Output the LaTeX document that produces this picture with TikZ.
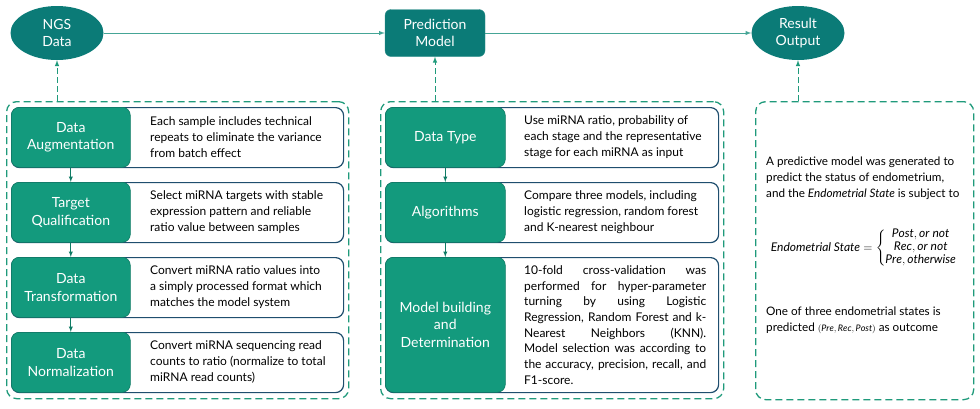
\documentclass[tikz,border=0pt]{standalone}
\usepackage{amsmath}
\usepackage{fontspec}
\setmainfont{Lato}
\usetikzlibrary{shapes.geometric, arrows}
\usetikzlibrary{positioning}
\definecolor{topteal}{HTML}{0B7B77}
\definecolor{boxgreen}{HTML}{139A7D}
\definecolor{rowline}{HTML}{1F4E6E}
\definecolor{dashgreen}{HTML}{1F9A7B}
\definecolor{flowline}{HTML}{45A596}
\tikzstyle{topell} = [ellipse, fill=topteal, text=white, minimum width=93pt, minimum height=54pt, inner sep=0pt, align=center, font=\fontsize{14}{17}\selectfont]
\tikzstyle{topbox} = [rectangle, rounded corners=6pt, fill=topteal, draw=topteal!85!white, text=white, minimum width=100pt, minimum height=47pt, align=center, font=\fontsize{14}{17}\selectfont]
\tikzstyle{group} = [rectangle, draw=dashgreen, line width=1.3pt, dash pattern=on 7pt off 4pt, rounded corners=10pt, anchor=north west, inner sep=0pt]
\tikzstyle{rowbox} = [rectangle, draw=rowline, line width=1.2pt, fill=white, rounded corners=8pt, anchor=north west, inner sep=0pt]
\tikzstyle{labbox} = [rectangle, fill=boxgreen, draw=boxgreen!80!black, line width=0.6pt, rounded corners=8pt, anchor=north west, text=white, align=center, inner sep=0pt, font=\fontsize{14}{17.5}\selectfont]
\tikzstyle{desc} = [anchor=west, align=left, inner sep=0pt, font=\fontsize{12}{16}\selectfont]
\tikzstyle{arrow} = [->,>=latex, flowline, line width=1pt]
\tikzstyle{dasharrow} = [->,>=latex, dashgreen, line width=1pt, dash pattern=on 6pt off 3pt]
\tikzstyle{stepdown} = [->,>=latex, boxgreen!80!black, line width=0.9pt]
\newcommand{\jline}[1]{\makebox[182pt][s]{#1}}

\begin{document}
\begin{tikzpicture}[x=1pt,y=-1pt]
\useasboundingbox (0,0) rectangle (980,408);
% top level
\node [topell] (ngs) at (57,33) {NGS\\Data};
\node [topbox] (pm) at (435,33) {Prediction\\Model};
\node [topell] (res) at (798,33) {Result\\Output};
\draw [arrow] (ngs) -- (pm);
\draw [arrow] (pm) -- (res);
% dashed groups
\node [group, minimum width=342pt, minimum height=297pt] (prep) at (6,101) {};
\node [group, minimum width=343pt, minimum height=297pt] (model) at (380,101) {};
\node [group, minimum width=218pt, minimum height=298pt] (outc) at (755,101) {};
\draw [dasharrow] (prep.north -| ngs.south) -- (ngs.south);
\draw [dasharrow] (model.north -| pm.south) -- (pm.south);
\draw [dasharrow] (outc.north -| res.south) -- (res.south);
% data preparation
\node [rowbox, minimum width=332pt, minimum height=60pt] (augrow) at (11,107) {};
\node [labbox, minimum width=119pt, minimum height=60pt] (aug) at (11,107) {Data\\Augmentation};
\node [desc] (augtxt) at (150,137) {Each sample includes technical\\repeats to eliminate the variance\\from batch effect};
\node [rowbox, minimum width=332pt, minimum height=60pt] (qualrow) at (11,182) {};
\node [labbox, minimum width=119pt, minimum height=60pt] (qual) at (11,182) {Target\\Qualification};
\node [desc] (qualtxt) at (150,212) {Select miRNA targets with stable\\expression pattern and reliable\\ratio value between samples};
\node [rowbox, minimum width=332pt, minimum height=60pt] (transrow) at (11,257) {};
\node [labbox, minimum width=119pt, minimum height=60pt] (trans) at (11,257) {Data\\Transformation};
\node [desc] (transtxt) at (150,287) {Convert miRNA ratio values into\\a simply processed format which\\matches the model system};
\node [rowbox, minimum width=332pt, minimum height=60pt] (normrow) at (11,332) {};
\node [labbox, minimum width=119pt, minimum height=60pt] (norm) at (11,332) {Data\\Normalization};
\node [desc] (normtxt) at (150,362) {Convert miRNA sequencing read\\counts to ratio (normalize to total\\miRNA read counts)};
\draw [stepdown] (aug) -- (qual);
\draw [stepdown] (qual) -- (trans);
\draw [stepdown] (trans) -- (norm);
% prediction model
\node [rowbox, minimum width=333pt, minimum height=60pt] (typerow) at (385,107) {};
\node [labbox, minimum width=120pt, minimum height=60pt] (dtype) at (385,107) {Data Type};
\node [desc] (typetxt) at (524,137) {Use miRNA ratio, probability of\\each stage and the representative\\stage for each miRNA as input};
\node [rowbox, minimum width=333pt, minimum height=60pt] (algrow) at (385,182) {};
\node [labbox, minimum width=120pt, minimum height=60pt] (alg) at (385,182) {Algorithms};
\node [desc] (algtxt) at (524,212) {Compare three models, including\\logistic regression, random forest\\and K-nearest neighbour};
\node [rowbox, minimum width=333pt, minimum height=135pt] (buildrow) at (385,257) {};
\node [labbox, minimum width=120pt, minimum height=135pt] (build) at (385,257) {Model building\\and\\Determination};
\node [desc, font=\fontsize{12}{15.7}\selectfont] (buildtxt) at (524,325) {\jline{10-fold cross-validation was}\\\jline{performed for hyper-parameter}\\\jline{turning by using Logistic}\\\jline{Regression, Random Forest and k-}\\\jline{Nearest Neighbors (KNN).}\\\jline{Model selection was according to}\\\jline{the accuracy, precision, recall, and}\\F1-score.};
\draw [stepdown] (dtype) -- (alg);
\draw [stepdown] (alg) -- (build);
% outcome
\node [desc, font=\fontsize{11.7}{16}\selectfont] (outtxt) at (766,178) {A predictive model was generated to\\predict the status of endometrium,\\and the \textit{Endometrial State} is subject to};
\node [inner sep=0pt, font=\fontsize{12}{13}\selectfont] (states) at (864,248) {$\text{\textit{Endometrial State}} = \left\{\begin{array}{@{}c@{}} \mathit{Post}, \mathit{or\ not}\\ \mathit{Rec}, \mathit{or\ not}\\ \mathit{Pre}, \mathit{otherwise}\end{array}\right.$};
\node [desc, font=\fontsize{11.7}{16}\selectfont] (predtxt) at (766,320) {One of three endometrial states is\\predicted {\fontsize{9}{10}\selectfont$(\mathit{Pre}, \mathit{Rec}, \mathit{Post})$} as outcome};
\end{tikzpicture}
\end{document}
